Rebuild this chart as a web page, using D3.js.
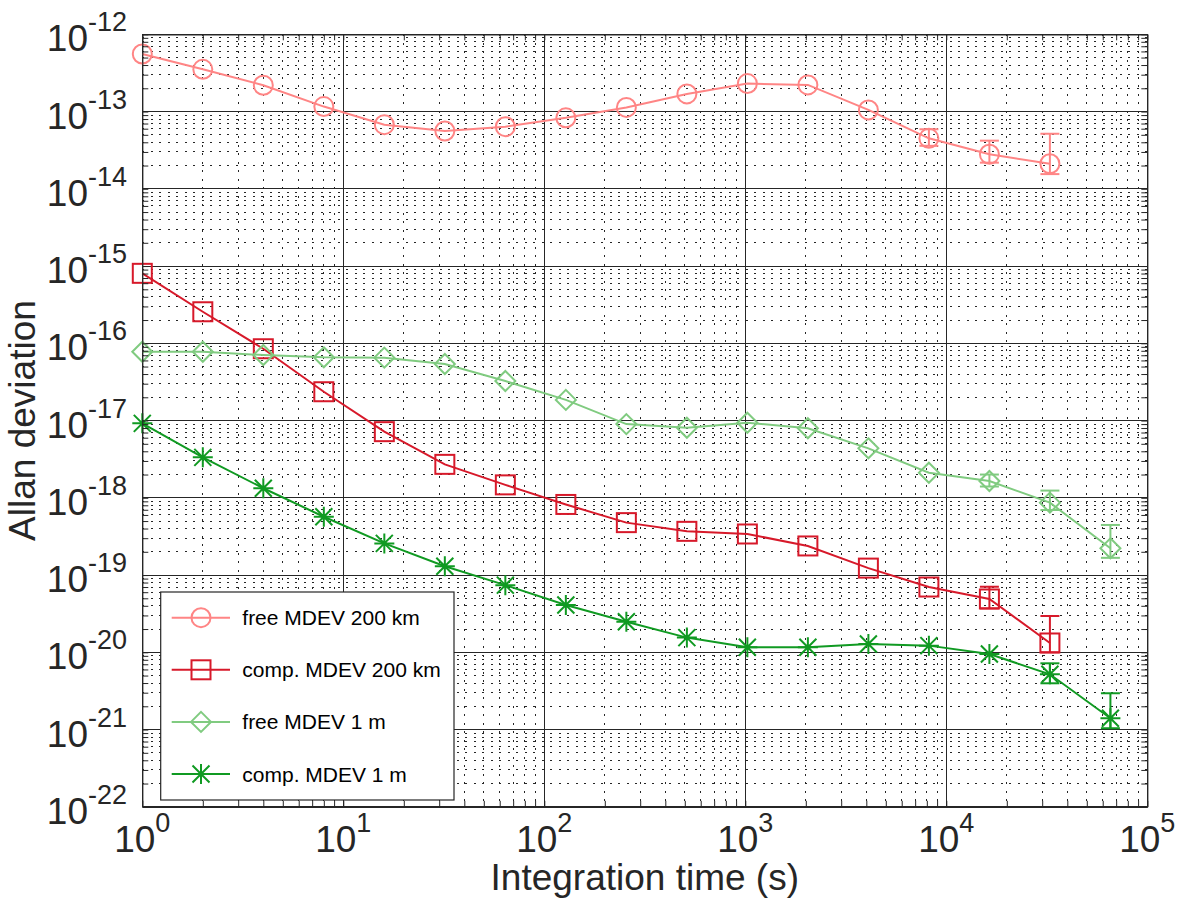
<!DOCTYPE html>
<html>
<head>
<meta charset="utf-8">
<script src="https://cdn.jsdelivr.net/npm/d3@7"></script>
<style>
  html, body { margin: 0; padding: 0; background: #fff; }
  svg { display: block; font-family: "Liberation Sans", Arial, Helvetica, sans-serif; }
</style>
</head>
<body>
<div id="chart"></div>
<script>
// Data
const tau = [1, 2, 4, 8, 16, 32, 64, 128, 256, 512, 1024, 2048, 4096, 8192, 16384, 32768, 65536];

const freeMdev200 = [5.56e-13, 3.52e-13, 2.19e-13, 1.16e-13, 6.76e-14, 5.6e-14, 6.37e-14, 8.3e-14,
  1.13e-13, 1.69e-13, 2.3e-13, 2.21e-13, 1.05e-13, 4.5e-14, 2.8e-14, 2.11e-14];
const compMdev200 = [8.05e-16, 2.56e-16, 8.5e-17, 2.36e-17, 7.18e-18, 2.71e-18, 1.47e-18, 8.2e-19,
  4.77e-19, 3.68e-19, 3.4e-19, 2.38e-19, 1.23e-19, 7.0e-20, 4.9e-20, 1.32e-20];
const freeMdev1 = [7.78e-17, 7.78e-17, 7.05e-17, 6.59e-17, 6.52e-17, 5.4e-17, 3.25e-17, 1.85e-17,
  9.0e-18, 8.07e-18, 9.37e-18, 7.94e-18, 4.37e-18, 2.11e-18, 1.65e-18, 8.65e-19, 2.22e-19];
const compMdev1 = [9.2e-18, 3.34e-18, 1.33e-18, 5.69e-19, 2.57e-19, 1.3e-19, 7.4e-20, 4.09e-20,
  2.49e-20, 1.55e-20, 1.16e-20, 1.16e-20, 1.28e-20, 1.22e-20, 9.5e-21, 5.19e-21, 1.4e-21];

// Error bars: [tau, low, high]
const freeMdev200Err = [[8192, 3.6e-14, 5.9e-14], [16384, 2.18e-14, 4.2e-14], [32768, 1.55e-14, 5.16e-14]];
const compMdev200Err = [[16384, 3.7e-20, 7.06e-20], [32768, 1.0e-20, 2.95e-20]];
const freeMdev1Err = [[16384, 1.4e-18, 2.0e-18], [32768, 6.95e-19, 1.24e-18], [65536, 1.67e-19, 4.45e-19]];
const compMdev1Err = [[32768, 3.97e-21, 7.2e-21], [65536, 1.04e-21, 2.95e-21]];

const legendLabels = ['free MDEV 200 km', 'comp. MDEV 200 km', 'free MDEV 1 m', 'comp. MDEV 1 m'];
const xExponents = [0, 1, 2, 3, 4, 5];
const yExponents = [-12, -13, -14, -15, -16, -17, -18, -19, -20, -21, -22];

const series = [
  { values: freeMdev200, err: freeMdev200Err, color: '#ff8585', marker: 'circle' },
  { values: compMdev200, err: compMdev200Err, color: '#d7192a', marker: 'square' },
  { values: freeMdev1, err: freeMdev1Err, color: '#80cb80', marker: 'diamond' },
  { values: compMdev1, err: compMdev1Err, color: '#109a22', marker: 'star' }
];

// Layout
const plotLeft = 142.3, plotRight = 1147.3, plotTop = 34.3, plotBottom = 806.8;
const ink = '#262626';

const svg = d3.select('#chart')
  .append('svg')
  .attr('width', 1200)
  .attr('height', 900);

const x = d3.scaleLog().domain([1, 1e5]).range([plotLeft, plotRight]);
const y = d3.scaleLog().domain([1e-22, 1e-12]).range([plotBottom, plotTop]);

const isMajor = v => Math.abs(Math.log10(v) - Math.round(Math.log10(v))) < 1e-6;
const xTicks = x.ticks(50);
const yTicks = y.ticks(50);

// Grid
const grid = svg.append('g').attr('shape-rendering', 'crispEdges');
grid.selectAll('line.xminor')
  .data(xTicks.filter(d => !isMajor(d)))
  .enter().append('line')
  .attr('x1', d => x(d)).attr('x2', d => x(d))
  .attr('y1', plotTop).attr('y2', plotBottom)
  .attr('stroke', ink).attr('stroke-width', 1)
  .attr('stroke-dasharray', '2,6.5');
grid.selectAll('line.yminor')
  .data(yTicks.filter(d => !isMajor(d)))
  .enter().append('line')
  .attr('x1', plotLeft).attr('x2', plotRight)
  .attr('y1', d => y(d)).attr('y2', d => y(d))
  .attr('stroke', ink).attr('stroke-width', 1)
  .attr('stroke-dasharray', '2,6.5');
grid.selectAll('line.xmajor')
  .data(xTicks.filter(isMajor))
  .enter().append('line')
  .attr('x1', d => x(d)).attr('x2', d => x(d))
  .attr('y1', plotTop).attr('y2', plotBottom)
  .attr('stroke', ink).attr('stroke-width', 1);
grid.selectAll('line.ymajor')
  .data(yTicks.filter(isMajor))
  .enter().append('line')
  .attr('x1', plotLeft).attr('x2', plotRight)
  .attr('y1', d => y(d)).attr('y2', d => y(d))
  .attr('stroke', ink).attr('stroke-width', 1);

// Markers
function drawMarker(g, type, color) {
  if (type === 'circle') {
    g.append('circle').attr('r', 9.5);
  } else if (type === 'square') {
    g.append('rect').attr('x', -9.5).attr('y', -9.5).attr('width', 19).attr('height', 19);
  } else if (type === 'diamond') {
    g.append('path').attr('d', 'M0,-10L10,0L0,10L-10,0Z');
  } else {
    g.append('path').attr('d', 'M-10,0H10M0,-10V10M-8.5,-8.5L8.5,8.5M-8.5,8.5L8.5,-8.5');
  }
  g.selectAll('*')
    .attr('fill', 'none')
    .attr('stroke', color)
    .attr('stroke-width', 2);
}

const line = d3.line()
  .x(d => x(d[0]))
  .y(d => y(d[1]));

series.forEach(s => {
  const pts = s.values.map((v, i) => [tau[i], v]);
  svg.append('path')
    .datum(pts)
    .attr('fill', 'none')
    .attr('stroke', s.color)
    .attr('stroke-width', 2)
    .attr('d', line);

  // Error bars
  const eb = svg.append('g').attr('stroke', s.color).attr('stroke-width', 2);
  s.err.forEach(e => {
    const cx = x(e[0]);
    eb.append('line').attr('x1', cx).attr('x2', cx).attr('y1', y(e[1])).attr('y2', y(e[2]));
    eb.append('line').attr('x1', cx - 9.5).attr('x2', cx + 9.5).attr('y1', y(e[1])).attr('y2', y(e[1]));
    eb.append('line').attr('x1', cx - 9.5).attr('x2', cx + 9.5).attr('y1', y(e[2])).attr('y2', y(e[2]));
  });

  pts.forEach(p => {
    const g = svg.append('g').attr('transform', `translate(${x(p[0])},${y(p[1])})`);
    drawMarker(g, s.marker, s.color);
  });
});

// Frame and inward ticks
function styleAxis(g) {
  g.selectAll('path.domain').attr('stroke', ink).attr('stroke-width', 1.2);
  g.selectAll('.tick line').attr('stroke', ink);
}
svg.append('g').attr('transform', `translate(0,${plotBottom})`)
  .call(d3.axisBottom(x).tickValues(xTicks).tickSize(-6).tickSizeOuter(0).tickFormat(''))
  .call(styleAxis);
svg.append('g').attr('transform', `translate(0,${plotTop})`)
  .call(d3.axisTop(x).tickValues(xTicks).tickSize(-6).tickSizeOuter(0).tickFormat(''))
  .call(styleAxis);
svg.append('g').attr('transform', `translate(${plotLeft},0)`)
  .call(d3.axisLeft(y).tickValues(yTicks).tickSize(-6).tickSizeOuter(0).tickFormat(''))
  .call(styleAxis);
svg.append('g').attr('transform', `translate(${plotRight},0)`)
  .call(d3.axisRight(y).tickValues(yTicks).tickSize(-6).tickSizeOuter(0).tickFormat(''))
  .call(styleAxis);

// Tick labels (10^n)
xExponents.forEach(e => {
  const t = svg.append('text')
    .attr('x', x(Math.pow(10, e)))
    .attr('y', plotBottom + 45)
    .attr('text-anchor', 'middle')
    .attr('fill', ink);
  t.append('tspan').attr('font-size', 37).text('10');
  t.append('tspan').attr('font-size', 27).attr('dy', -20).text(e);
});
yExponents.forEach(e => {
  const t = svg.append('text')
    .attr('x', 127)
    .attr('y', y(Math.pow(10, e)) + 17)
    .attr('text-anchor', 'end')
    .attr('fill', ink);
  t.append('tspan').attr('font-size', 37).text('10');
  t.append('tspan').attr('font-size', 27).attr('dy', -20).text(e);
});

// Axis titles
svg.append('text')
  .attr('x', (plotLeft + plotRight) / 2)
  .attr('y', 890)
  .attr('text-anchor', 'middle')
  .attr('font-size', 37)
  .attr('fill', ink)
  .text('Integration time (s)');
svg.append('text')
  .attr('transform', `translate(35,${(plotTop + plotBottom) / 2}) rotate(-90)`)
  .attr('text-anchor', 'middle')
  .attr('font-size', 37)
  .attr('fill', ink)
  .text('Allan deviation');

// Legend
const lg = svg.append('g');
lg.append('rect')
  .attr('x', 160.7).attr('y', 592)
  .attr('width', 293.3).attr('height', 208)
  .attr('fill', '#fff')
  .attr('stroke', ink)
  .attr('stroke-width', 1.2);
legendLabels.forEach((label, i) => {
  const cy = 617.7 + i * 52.1;
  const s = series[i];
  lg.append('line')
    .attr('x1', 171.7).attr('x2', 230)
    .attr('y1', cy).attr('y2', cy)
    .attr('stroke', s.color).attr('stroke-width', 2);
  drawMarker(lg.append('g').attr('transform', `translate(201,${cy})`), s.marker, s.color);
  lg.append('text')
    .attr('x', 242.3)
    .attr('y', cy + 7.5)
    .attr('font-size', 21)
    .attr('fill', '#000')
    .text(label);
});
</script>
</body>
</html>
